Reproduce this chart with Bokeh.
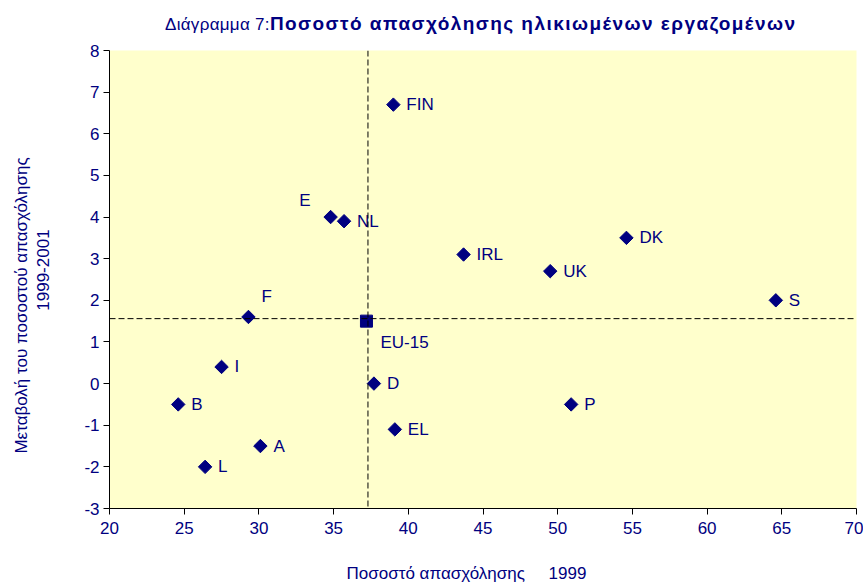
import math
from bokeh.plotting import figure
from bokeh.layouts import column
from bokeh.models import ColumnDataSource, Span, FixedTicker, Range1d, Div
from bokeh.core.properties import value
from bokeh.embed import file_html
from bokeh.resources import INLINE

# ---- data ----
countries = ["FIN", "E", "NL", "IRL", "UK", "DK", "S", "F", "I", "D", "B", "P", "EL", "A", "L"]
rate_1999 = [39.0, 34.8, 35.7, 43.7, 49.5, 54.6, 64.6, 29.3, 27.5, 37.7, 24.6, 50.9, 39.1, 30.1, 26.4]
change_99_01 = [6.7, 4.0, 3.9, 3.1, 2.7, 3.5, 2.0, 1.6, 0.4, 0.0, -0.5, -0.5, -1.1, -1.5, -2.0]
label_pos = ["r", "ul", "r", "r", "r", "r", "r", "ur", "r", "r", "r", "r", "r", "r", "r"]

eu_label = ["EU-15"]
eu_rate = [37.2]
eu_change = [1.5]
ref_x = 37.3
ref_y = 1.56

x_ticks = [20, 25, 30, 35, 40, 45, 50, 55, 60, 65, 70]
y_ticks = [-3, -2, -1, 0, 1, 2, 3, 4, 5, 6, 7, 8]
y_tick_labels = ["-3", "-2", "-1", "0", "1", "2", "3", "4", "5", "6", "7", "8"]

title_plain = "Διάγραμμα 7:"
title_bold = "Ποσοστό απασχόλησης ηλικιωμένων εργαζομένων"
x_title = "Ποσοστό απασχόλησης" + "\u00a0" * 5 + "1999"
y_title_1 = "Μεταβολή του ποσοστού απασχόλησης"
y_title_2 = "1999-2001"

NAVY = "#000080"
FONT = "Liberation Sans, Arial, sans-serif"
NB = "\u00a0"

offs = {"r": (13, 0, "left"), "ul": (-20, -17, "right"), "ur": (13, -20, "left")}
xo = [offs[k][0] for k in label_pos]
yo = [offs[k][1] for k in label_pos]
al = [offs[k][2] for k in label_pos]

src = ColumnDataSource(dict(x=rate_1999, y=change_99_01, name=countries, xo=xo, yo=yo, al=al))

p = figure(width=863, height=550, output_backend="svg", toolbar_location=None,
           x_range=Range1d(20, 70), y_range=Range1d(-3, 8),
           min_border_left=109, min_border_right=7, min_border_top=14, min_border_bottom=78)
p.background_fill_color = "#FFFFCC"
p.border_fill_color = "white"
p.outline_line_color = None
p.xgrid.grid_line_color = None
p.ygrid.grid_line_color = None

for ax in (p.xaxis[0], p.yaxis[0]):
    ax.axis_line_color = "black"
    ax.major_tick_line_color = "black"
    ax.major_tick_out = 6
    ax.major_tick_in = 0
    ax.minor_tick_line_color = None
    ax.major_label_text_color = NAVY
    ax.major_label_text_font = FONT
    ax.major_label_text_font_size = "17px"
    ax.axis_label_text_color = NAVY
    ax.axis_label_text_font = FONT
    ax.axis_label_text_font_size = "17px"
    ax.axis_label_text_font_style = "normal"

p.xaxis.ticker = FixedTicker(ticks=x_ticks)
p.yaxis.ticker = FixedTicker(ticks=y_ticks)
p.yaxis.major_label_overrides = {t: s for t, s in zip(y_ticks, y_tick_labels)}
p.xaxis.major_label_standoff = 7
p.yaxis.major_label_standoff = 4
p.xaxis.axis_label = x_title + NB * 7
p.yaxis.axis_label = y_title_1 + NB * 11 + "\n" + NB * 4 + y_title_2
p.xaxis.axis_label_standoff = 27
p.yaxis.axis_label_standoff = 28

p.add_layout(Span(location=ref_x, dimension="height", line_color="black", line_dash="6 3", line_width=1))
p.add_layout(Span(location=ref_y, dimension="width", line_color="black", line_dash="6 3", line_width=1))

p.scatter("x", "y", source=src, marker="square", angle=math.pi / 4, size=9.5,
          fill_color=NAVY, line_color=NAVY)
p.scatter(eu_rate, eu_change, marker="square", size=12, fill_color=NAVY, line_color=NAVY)

p.text("x", "y", text="name", source=src, x_offset="xo", y_offset="yo", text_align="al",
       text_baseline="middle", text_color=NAVY, text_font=value(FONT), text_font_size="17px")
p.text(eu_rate, eu_change, text=eu_label, x_offset=14, y_offset=21, text_align="left",
       text_baseline="middle", text_color=NAVY, text_font=value(FONT), text_font_size="17px")

title_html = (
    '<div style="position:absolute; left:165px; top:10px; white-space:nowrap; '
    'font-family:Liberation Sans, Arial, sans-serif; color:%s;">'
    '<span style="font-size:17px; letter-spacing:0.3px;">%s</span>'
    '<span style="font-weight:bold; font-size:19px; letter-spacing:1.45px;">%s</span></div>'
) % (NAVY, title_plain, title_bold)
title_div = Div(text=title_html, width=863, height=36, margin=(0, 0, 0, 0),
                styles={"position": "relative"})

layout = column(title_div, p, spacing=0)
open("out.html", "w").write(file_html(layout, INLINE))
